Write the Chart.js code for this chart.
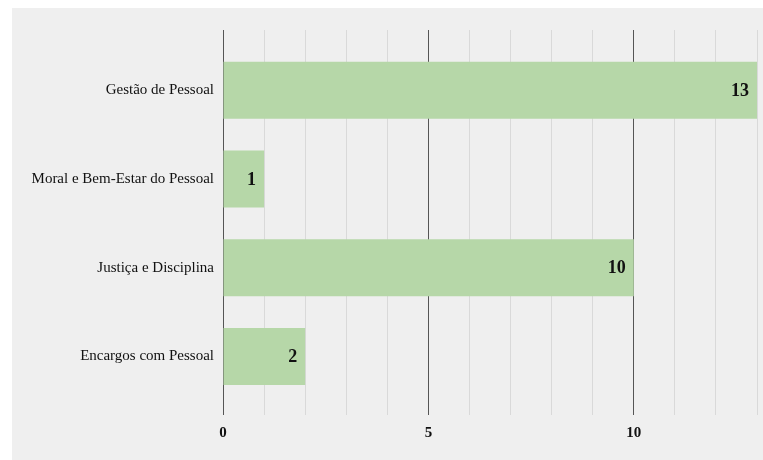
<!DOCTYPE html>
<html>
<head>
<meta charset="utf-8">
<style>
  body { margin: 0; background: #fff; }
  #wrap { position: absolute; left: 12px; top: 8px; width: 751px; height: 452px; background: #efefef; }
</style>
</head>
<body>
<div id="wrap">
  <canvas id="myChart" width="751" height="452"></canvas>
</div>

<script src="https://cdn.jsdelivr.net/npm/chart.js"></script>
<script>
  // dados do gráfico
  var categorias = ['Gestão de Pessoal', 'Moral e Bem-Estar do Pessoal', 'Justiça e Disciplina', 'Encargos com Pessoal'];
  var valores = [13, 1, 10, 2];
  var ticksMarcados = [0, 5, 10];

  // rótulos de valor dentro da barra (sem o plugin datalabels)
  var rotulosValor = {
    id: 'rotulosValor',
    afterDatasetsDraw: function(chart) {
      var ctx = chart.ctx;
      var meta = chart.getDatasetMeta(0);
      ctx.save();
      ctx.font = 'bold 18px "Liberation Serif", serif';
      ctx.fillStyle = '#111';
      ctx.textAlign = 'right';
      ctx.textBaseline = 'middle';
      meta.data.forEach(function(bar, i) {
        ctx.fillText(valores[i], bar.x - 8, bar.y + 1);
      });
      ctx.restore();
    }
  };

  var ctx = document.getElementById('myChart').getContext('2d');
  var chart = new Chart(ctx, {
    type: 'bar',
    data: {
      datasets: [{
        data: valores.map(function(v, i) { return { x: v, y: i }; }),
        backgroundColor: '#b6d7a8',
        borderWidth: 0,
        categoryPercentage: 1,
        barPercentage: 0.643
      }]
    },
    options: {
      indexAxis: 'y',
      responsive: false,
      animation: false,
      layout: { padding: { top: 22, right: 6, left: 0, bottom: 0 } },
      plugins: {
        legend: { display: false },
        tooltip: { enabled: false }
      },
      scales: {
        x: {
          type: 'linear',
          min: 0,
          max: 13,
          offset: false,
          ticks: {
            stepSize: 1,
            padding: 9,
            color: '#111',
            font: { family: '"Liberation Serif", serif', size: 15, weight: 'bold' },
            callback: function(v) { return ticksMarcados.indexOf(v) >= 0 ? v : ''; }
          },
          grid: {
            drawTicks: false,
            color: function(c) { return c.tick && c.tick.value % 5 === 0 ? '#555' : '#d9d9d9'; }
          },
          border: { display: false },
          afterFit: function(scale) { scale.height = 45; scale.paddingRight = 0; }
        },
        y: {
          type: 'linear',
          reverse: true,
          offset: false,
          min: -0.68,
          max: 3.66,
          afterBuildTicks: function(scale) {
            scale.ticks = categorias.map(function(c, i) { return { value: i }; });
          },
          ticks: {
            padding: 9,
            color: '#111',
            font: { family: '"Liberation Serif", serif', size: 15 },
            callback: function(v) { return categorias[v]; }
          },
          grid: { display: false, drawTicks: false },
          border: { display: false },
          afterFit: function(scale) { scale.width = 211; }
        }
      }
    },
    plugins: [rotulosValor]
  });
</script>
</body>
</html>
